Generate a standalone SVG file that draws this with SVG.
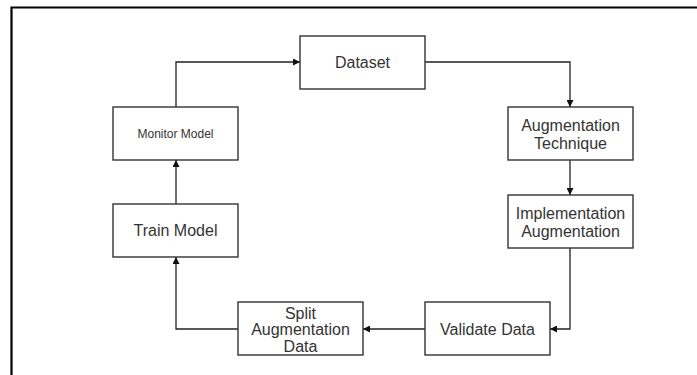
<svg xmlns="http://www.w3.org/2000/svg" width="697" height="375" viewBox="0 0 697 375">
<defs>
<style>
.box{fill:#fff;stroke:#333;stroke-width:1.4}
.t{font-family:"Liberation Sans",Arial,sans-serif;font-size:16px;fill:#333;text-anchor:middle}
.s{font-size:12px}
.c{fill:none;stroke:#222;stroke-width:1.3}
.frame{fill:none;stroke:#000;stroke-width:2.2}
</style>
<marker id="ah" viewBox="0 0 10 10" refX="10" refY="5" markerWidth="7" markerHeight="7" markerUnits="userSpaceOnUse" orient="auto">
<path d="M0,0 L10,5 L0,10 Z" fill="#111"/>
</marker>
</defs>
<rect width="697" height="375" fill="#fff"/>
<path class="frame" d="M11.5,375 V7.5 H697"/>
<g id="connectors">
<path class="c" d="M425,62 H570 V107" marker-end="url(#ah)"/>
<path class="c" d="M570,160 V195" marker-end="url(#ah)"/>
<path class="c" d="M570,248 V329 H550" marker-end="url(#ah)"/>
<path class="c" d="M425,329 H363" marker-end="url(#ah)"/>
<path class="c" d="M238,329 H176 V257" marker-end="url(#ah)"/>
<path class="c" d="M176,204 V160" marker-end="url(#ah)"/>
<path class="c" d="M176,107 V62 H300" marker-end="url(#ah)"/>
</g>
<g id="dataset">
<rect class="box" x="300" y="36" width="125" height="53"/>
<text class="t" x="362.5" y="68">Dataset</text>
</g>
<g id="augmentation-technique">
<rect class="box" x="508" y="107" width="125" height="53"/>
<text class="t" x="570.5" y="130.5">Augmentation</text>
<text class="t" x="570.5" y="148.5">Technique</text>
</g>
<g id="implementation-augmentation">
<rect class="box" x="508" y="195" width="125" height="53"/>
<text class="t" x="570.5" y="218.5">Implementation</text>
<text class="t" x="570.5" y="236.5">Augmentation</text>
</g>
<g id="validate-data">
<rect class="box" x="425" y="302" width="125" height="53"/>
<text class="t" x="487.5" y="334.5">Validate Data</text>
</g>
<g id="split-augmentation-data">
<rect class="box" x="238" y="302" width="125" height="53"/>
<text class="t" x="300.5" y="318.5">Split</text>
<text class="t" x="300.5" y="334.5">Augmentation</text>
<text class="t" x="300.5" y="351.5">Data</text>
</g>
<g id="train-model">
<rect class="box" x="113" y="204" width="125" height="53"/>
<text class="t" x="175.5" y="236">Train Model</text>
</g>
<g id="monitor-model">
<rect class="box" x="113" y="107" width="125" height="53"/>
<text class="t s" x="175.5" y="137.5">Monitor Model</text>
</g>
</svg>
